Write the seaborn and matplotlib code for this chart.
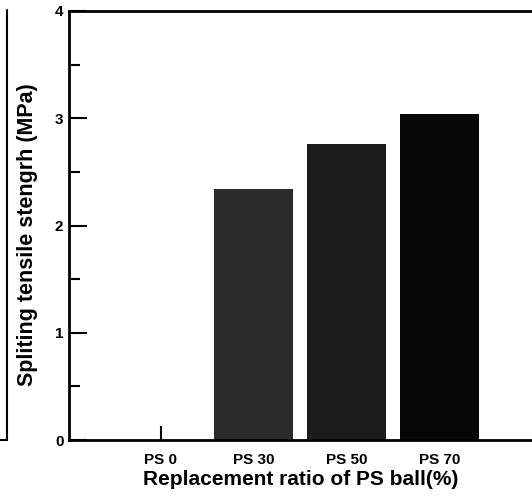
import matplotlib
matplotlib.use("Agg")
import matplotlib.pyplot as plt
from matplotlib.lines import Line2D
from matplotlib.ticker import MultipleLocator
import seaborn as sns
import pandas as pd

categories = ["PS 0", "PS 30", "PS 50", "PS 70"]
values = [0.0, 2.34, 2.76, 3.04]
bar_colors = ["#111111", "#2b2b2b", "#1c1c1c", "#070707"]

sns.set_theme(style="ticks")
plt.rcParams['font.family'] = ['Liberation Sans', 'DejaVu Sans']
plt.rcParams['font.weight'] = 'bold'
plt.rcParams['text.color'] = 'black'
plt.rcParams['axes.labelcolor'] = 'black'
plt.rcParams['xtick.color'] = 'black'
plt.rcParams['ytick.color'] = 'black'

df = pd.DataFrame({"cat": categories, "val": values})

fig = plt.figure(figsize=(5.32, 4.97), dpi=100)
ax = fig.add_axes([69/532, 57/497, 1 - 69/532, (440-11)/497])

sns.barplot(data=df, x="cat", y="val", order=categories, hue="cat",
            palette=bar_colors, width=0.85, legend=False, ax=ax,
            saturation=1, edgecolor="none")

ax.set_xlim(-0.99, 4.0)
ax.set_ylim(0, 4)
ax.yaxis.set_major_locator(MultipleLocator(1))
ax.yaxis.set_minor_locator(MultipleLocator(0.5))

for s in ["left", "top", "bottom"]:
    ax.spines[s].set_linewidth(2.0)
    ax.spines[s].set_color("black")
ax.spines["right"].set_visible(False)

ax.tick_params(axis="y", which="major", direction="in", length=13, width=1.5,
               pad=4, labelsize=11, colors="black")
ax.tick_params(axis="y", which="minor", direction="in", length=8, width=1.5,
               colors="black")
ax.tick_params(axis="x", which="major", direction="in", length=10, width=1.5,
               pad=9, labelsize=11, colors="black")
for lab in ax.get_xticklabels() + ax.get_yticklabels():
    lab.set_fontweight("bold")

ax.set_xlabel("Replacement ratio of PS ball(%)", fontsize=15, fontweight="bold",
              labelpad=2.5, color="black")
ax.set_ylabel("Spliting tensile stengrh (MPa)", fontsize=15.5, fontweight="bold",
              color="black")
ax.yaxis.set_label_coords(-0.066, 0.478)

# edge of neighbouring panel visible at the left of the scan
fig.add_artist(Line2D([7/532, 7/532], [57/497, 487/497], color="black", lw=1.5,
                      transform=fig.transFigure))
fig.add_artist(Line2D([0, 7/532], [57/497, 57/497], color="black", lw=1.5,
                      transform=fig.transFigure))

fig.savefig("out.png", dpi=100)
